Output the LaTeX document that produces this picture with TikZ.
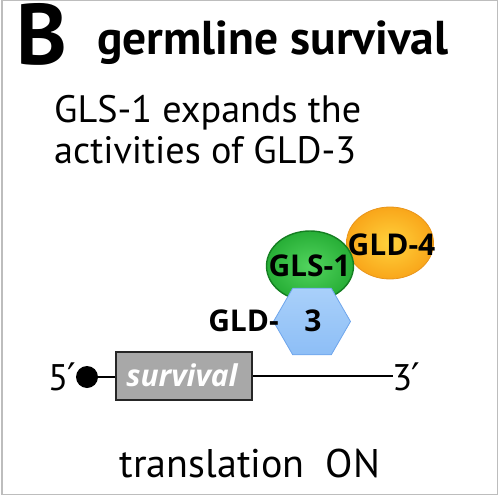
\documentclass[tikz,border=0pt]{standalone}
\usepackage{fontspec}
\setmainfont{PT Sans}
\newfontfamily\opensans{Open Sans}
\newfontfamily\dejavu{DejaVu Sans}
\newcommand{\prm}{{\dejavu\fontsize{38}{38}\selectfont ′}}
\usetikzlibrary{shapes.geometric}
\definecolor{framegray}{HTML}{BDBDBD}
\definecolor{gfill}{HTML}{27AE36}
\definecolor{gdark}{HTML}{157F22}
\definecolor{glight}{HTML}{52D45E}
\definecolor{ofill}{HTML}{F9A61A}
\definecolor{olight}{HTML}{FFD23C}
\definecolor{odark}{HTML}{E9951A}
\definecolor{bfill}{HTML}{8DBEF6}
\definecolor{blight}{HTML}{A9D0FA}
\definecolor{bdark}{HTML}{6EA5EC}
\definecolor{boxgray}{HTML}{A8A8A8}
\tikzset{
  txt/.style={inner sep=0pt, anchor=base west},
  protlabel/.style={inner sep=0pt, font=\opensans\fontsize{30}{30}\selectfont\bfseries},
}
\begin{document}
\begin{tikzpicture}[x=1pt,y=-1pt]
\useasboundingbox (0,0) rectangle (500,500);
\draw[framegray, line width=1.2pt] (2,0.5) rectangle (497.5,494.5);
% titles
\node[txt, font=\fontsize{86}{86}\selectfont\bfseries] (B) at (16,65) {B};
\node[txt, font=\fontsize{47.5}{47.5}\selectfont\bfseries] (title) at (97,55) {germline survival};
\node[txt, font=\fontsize{38.2}{38.2}\selectfont] (sub1) at (54,122) {GLS-1 expands the};
\node[txt, font=\fontsize{38.2}{38.2}\selectfont] (sub2) at (54,163) {activities of GLD-3};
% proteins
\node[ellipse, minimum width=87pt, minimum height=72pt, inner sep=0pt,
      draw=odark, line width=0.8pt, inner color=olight, outer color=ofill] (gld4) at (390,243) {};
\node[ellipse, minimum width=87pt, minimum height=70pt, inner sep=0pt,
      draw=gdark, line width=1.4pt, inner color=glight, outer color=gfill] (gls1) at (310,266) {};
\node[regular polygon, regular polygon sides=6, minimum size=77pt, inner sep=0pt,
      draw=bdark, line width=0.8pt, top color=blight, bottom color=bfill] (gld3) at (312,321.5) {};
\node[protlabel, anchor=base] (gls1t) at (309.5,276.5) {GLS-1};
\node[protlabel, anchor=base] (gld4t) at (391.5,255) {GLD-4};
\node[protlabel, anchor=base east] (gld3a) at (279,331) {GLD-};
\node[protlabel, anchor=base] (gld3b) at (313,331) {3};
% mRNA
\node[circle, fill=black, minimum size=22pt, inner sep=0pt] (cap) at (87,377) {};
\node[rectangle, draw=black!85, line width=1.8pt, fill=boxgray, minimum width=136pt,
      minimum height=48pt, inner sep=0pt] (orf) at (184,376) {};
\node[inner sep=0pt, anchor=base, text=white, font=\opensans\fontsize{30}{30}\selectfont\bfseries\itshape] (orft) at (182,386) {survival};
\coordinate (end3) at (393,376);
\draw[line width=2.4pt] (cap) -- (cap -| orf.west);
\draw[line width=2.4pt] (orf.east) -- (end3);
\node[txt, anchor=base east, font=\fontsize{37}{37}\selectfont] (five) at (76,390) {5\kern-1pt\prm};
\node[txt, font=\fontsize{37}{37}\selectfont] (three) at (392,390) {3\kern-1pt\prm};
% bottom
\node[txt, anchor=base, font=\fontsize{40}{40}\selectfont] (trans) at (250,477) {translation\ \ ON};
\end{tikzpicture}
\end{document}
